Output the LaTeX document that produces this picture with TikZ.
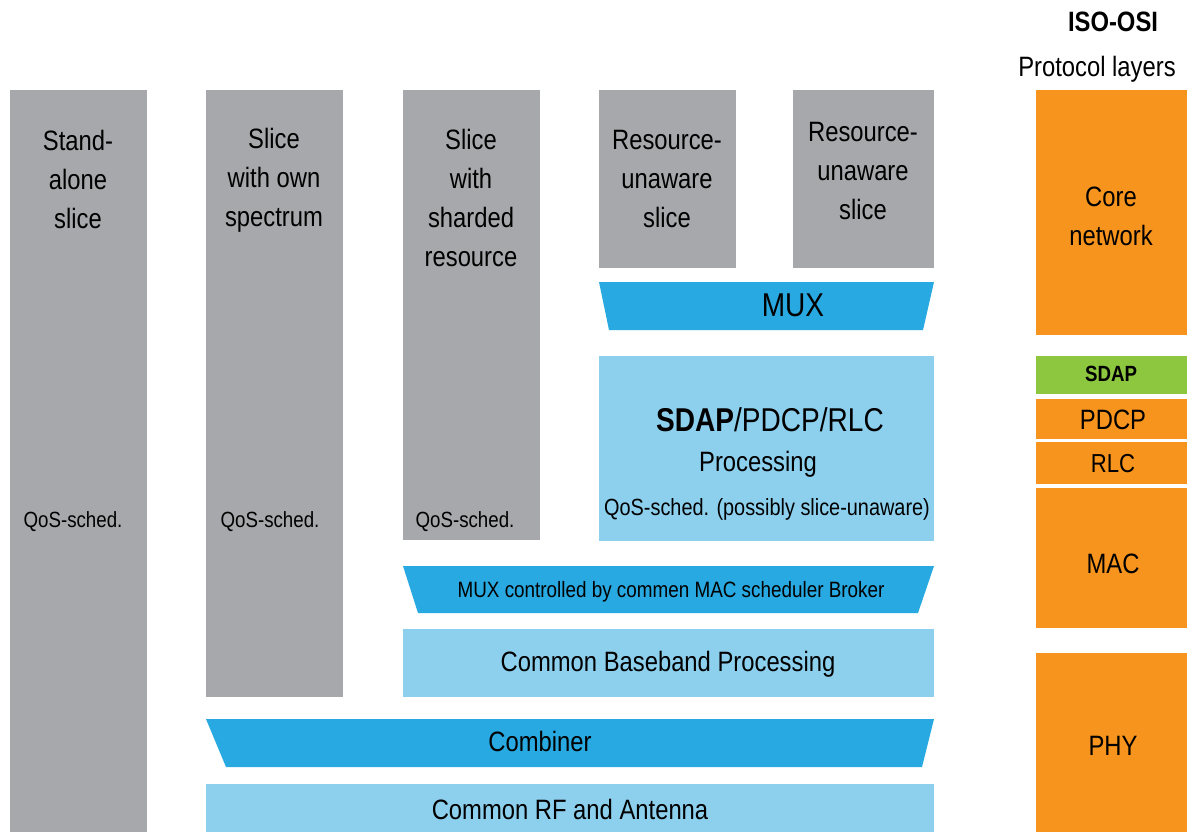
\documentclass[tikz,border=0pt]{standalone}
\usepackage{fontspec}
\setmainfont{Liberation Sans}[FakeStretch=0.85]
\usetikzlibrary{positioning}
\definecolor{slicegray}{HTML}{A7A8AB}
\definecolor{procblue}{HTML}{8DD0EE}
\definecolor{muxblue}{HTML}{29A9E1}
\definecolor{layerorange}{HTML}{F7941D}
\definecolor{sdapgreen}{HTML}{8DC63F}
\begin{document}
\begin{tikzpicture}[
  x=0.5pt, y=-0.5pt,
  big/.style={font=\fontsize{14}{19.5}\selectfont, align=center,
              inner sep=0pt, anchor=center},
  large/.style={font=\fontsize{16.5}{20}\selectfont, inner sep=0pt},
  small/.style={font=\fontsize{11}{13}\selectfont, inner sep=0pt},
]
\useasboundingbox (0,0) rectangle (1187,832);
% Slice columns
\foreach \x/\b in {10/832, 206/697, 403/540, 599/268}
  \fill[slicegray] (\x,90) rectangle (\x+137,\b);
\fill[slicegray] (793,90) rectangle (934,268);
% Shared processing blocks
\fill[procblue] (599,356) rectangle (934,541);
\fill[procblue] (403,629) rectangle (934,697);
\fill[procblue] (206,784) rectangle (934,832);
% Multiplexers
\fill[muxblue] (599,282) -- (934,282) -- (923,330) -- (609,330) -- cycle;
\fill[muxblue] (403,566) -- (934,566) -- (918,613) -- (418,613) -- cycle;
\fill[muxblue] (206,719) -- (934,719) -- (922,767) -- (226,767) -- cycle;
% Protocol layers
\foreach \t/\b in {90/335, 399/439, 442/484, 488/628, 653/832}
  \fill[layerorange] (1036,\t) rectangle (1187,\b);
\fill[sdapgreen] (1036,356) rectangle (1187,394);

% Column labels
\node[big] (standalone) at (78,179) {Stand-\\alone\\slice};
\node[big] (ownspec)    at (274,180) {Slice\\with own\\spectrum};
\node[big] (sharded)    at (471,198) {Slice\\with\\sharded\\resource};
\node[big] (unaware1)   at (667,179) {Resource-\\unaware\\slice};
\node[big] (unaware2)   at (863,171) {Resource-\\unaware\\slice};
\foreach \n/\cx in {qos1/73, qos2/270, qos3/465}
  \node[small] (\n) at (\cx,522) {QoS-sched.};
% Block labels
\node[large] (mux) at (793,305) {MUX};
\node[large] (sdapproc) at (770,420) {\textbf{SDAP}/PDCP/RLC};
\node[big] (proc) at (758,464) {Processing};
\node[small, font=\fontsize{11.7}{13}\selectfont] (qosproc) at (767,509) {QoS-sched. (possibly slice-unaware)};
\node[small, font=\fontsize{11.1}{13}\selectfont] (macmux) at (671,592) {MUX controlled by commen MAC scheduler Broker};
\node[big] (baseband) at (668,664) {Common Baseband Processing};
\node[big] (combiner) at (540,741) {Combiner};
\node[big] (rf) at (570,809) {Common RF and Antenna};
% ISO-OSI layers
\node[big, font=\fontsize{14}{19.5}\selectfont\bfseries] (iso) at (1113,22) {ISO-OSI};
\node[big] (protolayers) at (1097,69) {Protocol layers};
\node[big] (core) at (1111,216) {Core\\network};
\node[small, font=\fontsize{11}{13}\selectfont\bfseries] (sdap) at (1111,374) {SDAP};
\node[big] (pdcp) at (1113,420) {PDCP};
\node[big, font=\fontsize{13}{15}\selectfont] (rlc) at (1113,464) {RLC};
\node[big] (mac) at (1113,564) {MAC};
\node[big] (phy) at (1113,746) {PHY};
\end{tikzpicture}
\end{document}
